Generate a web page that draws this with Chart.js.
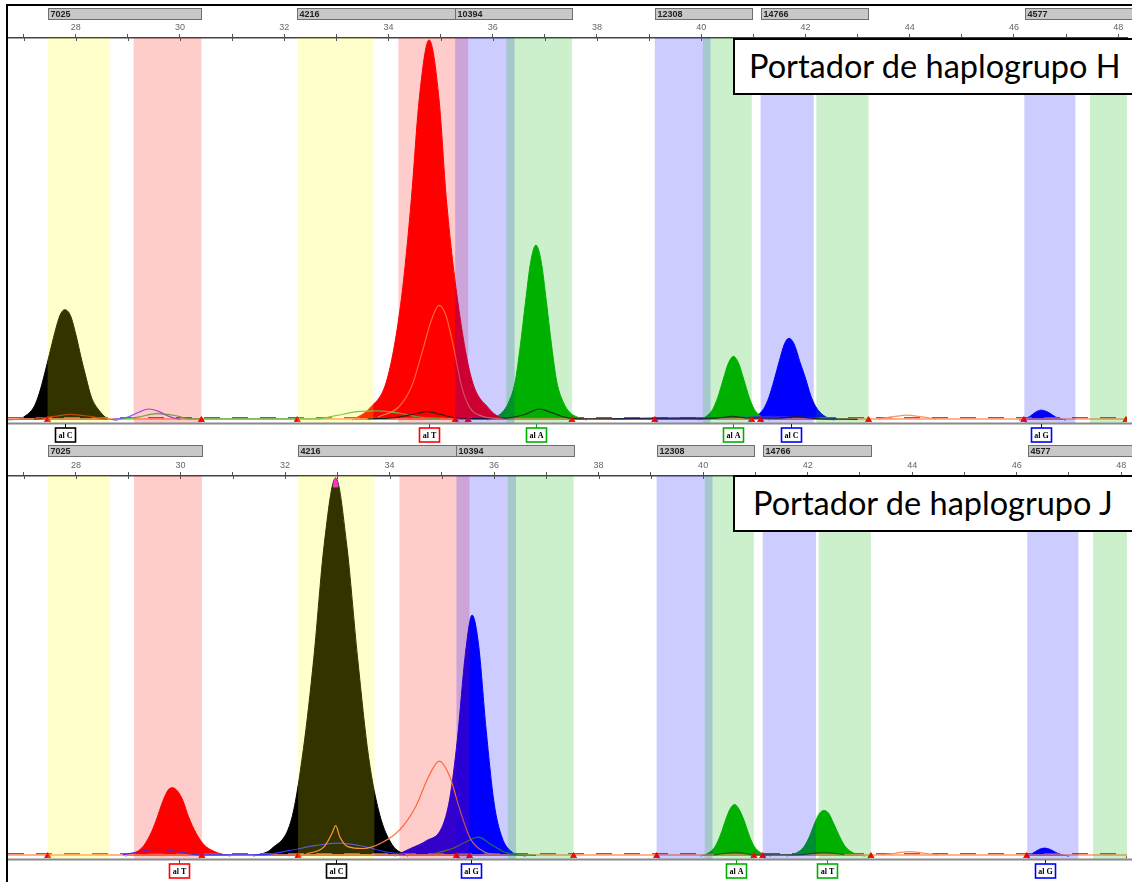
<!DOCTYPE html>
<html>
<head>
<meta charset="utf-8">
<script src="https://cdn.jsdelivr.net/npm/chart.js@4.4.1/dist/chart.umd.min.js"></script>
<style>
  body { margin: 0; background: #fff; width: 1132px; height: 882px; overflow: hidden; position: relative; }
  canvas { position: absolute; left: 0; }
  #frame { position: absolute; left: 6px; top: 4px; width: 1130px; height: 880px;
           border-left: 2px solid #000; border-top: 2px solid #000; pointer-events: none; }
  .tag { position: absolute; left: 733px; width: 420px; background: #fff; border: 2px solid #000;
         font-family: Lato, "Open Sans", sans-serif; font-size: 32.5px; color: #000;
         box-sizing: border-box; padding-left: 14px; white-space: nowrap; }
</style>
</head>
<body>
<canvas id="panelH" width="1132" height="444" style="top:0"></canvas>
<canvas id="panelJ" width="1132" height="438" style="top:444px"></canvas>
<div id="frame"></div>
<div class="tag" style="top:38px;height:57px;line-height:51px">Portador de haplogrupo H</div>
<div class="tag" style="top:475px;height:57px;line-height:52px;padding-left:18px">Portador de haplogrupo J</div>
<script>
// size axis (bp) visible in each panel
const rangeH = [26.70, 48.17];
const rangeJ = [26.70, 48.11];

// SNP marker bins shown as grey bars above the trace
const markerNames = ['7025', '4216', '10394', '12308', '14766', '4577'];
const markerStart = [27.46, 32.25, 35.28, 39.11, 41.14, 46.22];
const markerEnd = [30.41, 35.28, 37.52, 40.97, 43.21, 48.40];
const binEdges = [27.46, 30.41, 32.25, 35.28, 35.53, 37.52, 39.11, 40.97, 41.14, 43.21, 46.19, 48.15];

// allele windows (dye colour bins)
const yellowBins = [[27.46, 28.65], [32.25, 33.71]];
const pinkBins = [[29.11, 30.41], [34.19, 35.53]];
const blueBins = [[35.28, 36.42], [39.11, 40.18], [41.14, 42.16], [46.20, 47.18]];
const greenBins = [[36.26, 37.52], [40.03, 40.97], [42.21, 43.21], [47.46, 48.40]];

// haplogroup H trace: filled peaks [size, rfu %]
const hBlackC = [[26.7, 0.1], [26.9, 0.2], [27.0, 0.8], [27.2, 3.5], [27.3, 7], [27.4, 12], [27.5, 17.5], [27.6, 23], [27.7, 27.5], [27.79, 28.9], [27.9, 27.3], [28.0, 22.5], [28.1, 16.5], [28.2, 11], [28.3, 6], [28.45, 2.5], [28.6, 0.5], [28.8, 0]];
const hRedT = [[33.3, 0], [33.63, 3], [33.98, 11], [34.25, 32], [34.44, 58], [34.59, 84], [34.78, 99.5], [34.97, 84], [35.11, 58], [35.32, 32], [35.59, 11], [35.93, 3], [36.2, 0]];
const hGreenA1 = [[35.9, 0], [36.05, 0.8], [36.18, 2], [36.3, 4.5], [36.43, 10], [36.53, 19.5], [36.63, 31], [36.73, 41.5], [36.83, 45.8], [36.93, 41.5], [37.03, 31], [37.13, 19.5], [37.23, 10], [37.36, 4.5], [37.48, 2], [37.62, 0.8], [37.8, 0]];
const hGreenA2 = [[39.95, 0], [40.1, 1], [40.22, 2.8], [40.32, 6], [40.42, 10.5], [40.52, 14.8], [40.62, 16.7], [40.72, 14.8], [40.82, 10.5], [40.92, 6], [41.02, 2.8], [41.15, 1], [41.3, 0]];
const hBlueC = [[40.9, 0], [41.05, 1], [41.2, 3], [41.3, 6], [41.4, 10.5], [41.5, 15.5], [41.6, 20], [41.68, 21.4], [41.78, 20], [41.9, 15], [42.0, 11], [42.1, 6.5], [42.2, 3.5], [42.35, 1.2], [42.55, 0]];
const hBlueG = [[46.1, 0], [46.3, 0.9], [46.42, 2.1], [46.52, 2.6], [46.65, 2.1], [46.8, 0.8], [47.0, 0]];
// haplogroup H: thin cross-talk traces
const hOrange = [[33.8, 0.8], [34.2, 3.5], [34.45, 9], [34.65, 18], [34.82, 26], [34.97, 30], [35.1, 27.5], [35.25, 19], [35.4, 9], [35.55, 3.5], [35.8, 1], [36.2, 0.3]];
const hOrangeSmall = [[43.4, 0.3], [43.7, 0.9], [43.95, 1.3], [44.2, 0.9], [44.5, 0.3]];
const hBlackThin = [[33.6, 0.3], [34.2, 0.8], [34.5, 1.6], [34.75, 2.2], [35.0, 1.5], [35.3, 0.6], [35.8, 0.4], [36.3, 0.6], [36.6, 1.4], [36.9, 2.9], [37.1, 2.1], [37.4, 0.7], [37.8, 0.3], [39.8, 0.3], [40.3, 0.5], [40.6, 1.0], [40.9, 0.5], [41.5, 0.5], [41.8, 0.9], [42.2, 0.4], [43.0, 0.2]];
const hViolet = [[28.7, 0.2], [29.0, 0.8], [29.2, 2], [29.4, 2.9], [29.6, 2.2], [29.8, 0.9], [30.0, 0.2]];
const hGreenThin = [[28.8, 0.2], [29.2, 0.8], [29.55, 1.7], [29.9, 1.2], [30.2, 0.3], [32.6, 0.3], [33.0, 1.2], [33.4, 2.2], [33.8, 2.4], [34.2, 1.8], [34.6, 0.8], [35.0, 0.3]];
const hDarkRed = [[27.2, 0.2], [27.6, 1.0], [27.9, 1.5], [28.3, 0.9], [28.6, 0.2]];
const hBlueThin = [[38.3, 0.3], [39.0, 0.5], [40.2, 0.6], [41.0, 0.8], [41.4, 1.0], [42.0, 0.7], [42.6, 0.4]];
// haplogroup H allele calls
const hCallPos = [27.79, 34.78, 36.83, 40.62, 41.73, 46.52];
const hCallText = ['al C', 'al T', 'al A', 'al A', 'al C', 'al G'];
const hCallColor = ['#000000', '#ff0000', '#00b000', '#00b000', '#0000ff', '#0000ff'];

// haplogroup J trace: filled peaks
const jRedT = [[28.95, 0], [29.15, 1], [29.3, 2.8], [29.45, 6.5], [29.55, 10], [29.65, 14], [29.77, 17.5], [29.85, 18], [29.95, 17], [30.05, 14.5], [30.15, 10.5], [30.3, 6], [30.45, 3], [30.65, 1.2], [30.95, 0]];
const jBlackC = [[31.4, 0], [31.75, 2], [32.13, 10], [32.35, 28], [32.55, 52], [32.75, 82], [32.97, 99.5], [33.18, 82], [33.39, 52], [33.6, 26], [33.81, 11], [34.05, 3], [34.35, 0]];
const jBlackTip = [[32.92, 97.4], [32.97, 99.5], [33.02, 97.4]];
const jBlueG = [[34.1, 0], [34.4, 2], [34.7, 4], [35.0, 7.5], [35.15, 15], [35.3, 31], [35.45, 53], [35.58, 63.4], [35.7, 56], [35.85, 33], [36.0, 14], [36.15, 5], [36.35, 1], [36.6, 0]];
const jGreenA = [[39.95, 0], [40.1, 0.8], [40.22, 2.3], [40.33, 5.5], [40.43, 9.5], [40.52, 12.5], [40.6, 13.6], [40.68, 12.5], [40.78, 9.5], [40.88, 5.5], [40.98, 2.5], [41.1, 0.9], [41.3, 0]];
const jGreenT = [[41.6, 0], [41.78, 0.8], [41.92, 2.3], [42.03, 5], [42.13, 8.5], [42.23, 11.3], [42.31, 12], [42.4, 11.3], [42.5, 8.5], [42.6, 5.5], [42.72, 2.5], [42.88, 0.8], [43.1, 0]];
const jBlueSmall = [[46.15, 0], [46.3, 0.7], [46.42, 1.7], [46.53, 2.1], [46.65, 1.7], [46.8, 0.6], [47.0, 0]];
// haplogroup J: thin cross-talk traces
const jOrange = [[32.4, 0.5], [32.75, 2.5], [32.9, 6], [32.97, 8], [33.05, 5], [33.2, 2.5], [33.5, 2], [33.85, 3.5], [34.2, 7], [34.5, 13], [34.75, 21], [34.95, 25], [35.15, 21], [35.35, 12], [35.55, 4.5], [35.8, 1.2], [36.1, 0.3]];
const jOrangeSmall = [[43.4, 0.3], [43.7, 0.8], [43.95, 1.2], [44.2, 0.8], [44.5, 0.3]];
const jBlueThin = [[28.9, 0.3], [29.3, 1.4], [29.6, 1.8], [30.0, 1.0], [30.4, 0.3], [31.6, 0.4], [32.1, 1.5], [32.6, 2.8], [33.0, 3.4], [33.5, 2.6], [33.9, 1.2], [34.3, 0.4]];
const jGreenThin = [[34.8, 0.5], [35.2, 2], [35.5, 4], [35.7, 5], [35.95, 3], [36.3, 0.6], [36.8, 0.2]];
const jDarkGreen = [[40.2, 0.3], [40.6, 1.0], [41.0, 0.3], [41.9, 0.4], [42.3, 1.0], [42.7, 0.4]];
// haplogroup J allele calls
const jCallPos = [29.98, 32.97, 35.56, 40.62, 42.37, 46.55];
const jCallText = ['al T', 'al C', 'al G', 'al A', 'al T', 'al G'];
const jCallColor = ['#ff0000', '#000000', '#0000ff', '#00b000', '#00b000', '#0000ff'];

const toXY = pts => pts.map(p => ({ x: p[0], y: p[1] }));

function peak(pts, color, extra) {
  return Object.assign({
    data: toXY(pts),
    borderColor: color,
    backgroundColor: color,
    borderWidth: 1,
    fill: 'origin',
    pointRadius: 0,
    cubicInterpolationMode: 'monotone',
    order: 3
  }, extra || {});
}

function trace(pts, color, width) {
  return {
    data: toXY(pts),
    borderColor: color,
    borderWidth: width || 1.2,
    fill: false,
    pointRadius: 0,
    cubicInterpolationMode: 'monotone',
    order: 2
  };
}

function baseline(range) {
  return [
    trace([[range[0], 0.3], [range[1] + 0.5, 0.3]], '#ff9a6a', 1.5),
    Object.assign(trace([[range[0], 0.6], [range[1] + 0.5, 0.6]], '#ff2a2a', 1.5), { borderDash: [16, 12] }),
    {
      data: binEdges.map(x => ({ x: x, y: 0 })),
      showLine: false,
      pointStyle: 'triangle',
      pointRadius: 3.5,
      pointBackgroundColor: '#ff0000',
      pointBorderColor: '#ff0000',
      order: 0
    }
  ];
}

// translucent dye windows laid over the trace
const binsPlugin = {
  id: 'bins',
  afterDatasetsDraw(chart) {
    const { ctx, chartArea: a, scales: { x } } = chart;
    const layers = [
      [yellowBins, 'rgba(255,255,0,0.2)'],
      [pinkBins, 'rgba(255,0,0,0.2)'],
      [blueBins, 'rgba(0,0,255,0.2)'],
      [greenBins, 'rgba(0,180,0,0.2)']
    ];
    ctx.save();
    ctx.beginPath();
    ctx.rect(a.left, a.top, a.right - a.left, a.bottom - a.top + 2);
    ctx.clip();
    layers.forEach(([bins, color]) => {
      ctx.fillStyle = color;
      bins.forEach(([s, e]) => {
        const x0 = x.getPixelForValue(s), x1 = x.getPixelForValue(e);
        ctx.fillRect(x0, a.top, x1 - x0, a.bottom - a.top + 2);
      });
    });
    ctx.restore();
  }
};

// marker bars, inner tick marks, baseline rule and allele call boxes
const decorPlugin = {
  id: 'decor',
  afterDraw(chart, args, opts) {
    const { ctx, chartArea: a, scales: { x } } = chart;
    ctx.save();

    ctx.strokeStyle = '#555';
    ctx.lineWidth = 1;
    x.ticks.forEach(t => {
      const px = Math.round(x.getPixelForValue(t.value)) + 0.5;
      ctx.beginPath();
      ctx.moveTo(px, a.top);
      ctx.lineTo(px, a.top + 3);
      ctx.stroke();
    });

    ctx.strokeStyle = '#8a8a8a';
    ctx.lineWidth = 2;
    ctx.beginPath();
    ctx.moveTo(a.left, a.bottom + 1.5);
    ctx.lineTo(chart.width, a.bottom + 1.5);
    ctx.stroke();

    ctx.font = 'bold 9px "Liberation Sans", Arial, sans-serif';
    ctx.textBaseline = 'middle';
    markerNames.forEach((name, i) => {
      const x0 = Math.round(x.getPixelForValue(markerStart[i])) + 0.5;
      const x1 = Math.round(x.getPixelForValue(markerEnd[i])) + 0.5;
      ctx.fillStyle = '#c8c8c8';
      ctx.fillRect(x0, opts.barY, x1 - x0, 11);
      ctx.strokeStyle = '#6e6e6e';
      ctx.lineWidth = 1;
      ctx.strokeRect(x0, opts.barY + 0.5, x1 - x0, 11);
      ctx.fillStyle = '#222';
      ctx.fillText(name, x0 + 2, opts.barY + 6.5);
    });

    ctx.font = 'bold 8px "Liberation Serif", serif';
    ctx.textAlign = 'center';
    opts.callPos.forEach((pos, i) => {
      const cx = Math.round(x.getPixelForValue(pos)) + 0.5;
      const top = a.bottom + 6;
      ctx.strokeStyle = opts.callColor[i];
      ctx.lineWidth = 1;
      ctx.beginPath();
      ctx.moveTo(cx, a.bottom + 2);
      ctx.lineTo(cx, top);
      ctx.stroke();
      ctx.fillStyle = '#fff';
      ctx.fillRect(cx - 10, top, 20, 14);
      ctx.lineWidth = 1.6;
      ctx.strokeRect(cx - 10, top, 20, 14);
      ctx.fillStyle = '#000';
      ctx.fillText(opts.callText[i], cx, top + 7.5);
    });
    ctx.restore();
  }
};

function makePanel(id, p) {
  new Chart(document.getElementById(id), {
    type: 'line',
    data: { datasets: p.datasets },
    options: {
      responsive: false,
      animation: false,
      devicePixelRatio: 1,
      layout: { padding: { left: 8, right: 0, top: p.padTop, bottom: p.padBottom } },
      plugins: {
        legend: { display: false },
        tooltip: { enabled: false },
        decor: { barY: p.barY, callPos: p.callPos, callText: p.callText, callColor: p.callColor }
      },
      scales: {
        x: {
          type: 'linear',
          position: 'top',
          min: p.range[0],
          max: p.range[1],
          afterFit: s => { s.height = p.axisH; },
          ticks: {
            stepSize: 1,
            autoSkip: false,
            includeBounds: false,
            maxRotation: 0,
            padding: 1,
            color: '#666',
            font: { family: '"Liberation Sans", Arial, sans-serif', size: 9 },
            callback: v => (v % 2 === 0 ? String(v) : '')
          },
          grid: { drawOnChartArea: false, drawTicks: true, tickLength: 4, color: '#555' },
          border: { display: true, color: '#444', width: 1.5 }
        },
        y: { display: false, min: -0.5, max: 100 }
      }
    },
    plugins: [binsPlugin, decorPlugin]
  });
}

makePanel('panelH', {
  range: rangeH, padTop: 5, axisH: 33, padBottom: 22, barY: 8,
  callPos: hCallPos, callText: hCallText, callColor: hCallColor,
  datasets: [
    trace(hOrange, '#ff8040'),
    trace(hOrangeSmall, '#ff9060'),
    trace(hBlackThin, '#1a1a1a'),
    trace(hViolet, '#7a5cff'),
    trace(hGreenThin, '#50c050'),
    trace(hDarkRed, '#b02000'),
    trace(hBlueThin, '#3030ff'),
    peak(hBlackC, '#000000'),
    peak(hRedT, '#ff0000'),
    peak(hGreenA1, '#00b000'),
    peak(hGreenA2, '#00b000'),
    peak(hBlueC, '#0000ff'),
    peak(hBlueG, '#0000ff')
  ].concat(baseline(rangeH))
});

makePanel('panelJ', {
  range: rangeJ, padTop: 0, axisH: 32, padBottom: 24, barY: 1,
  callPos: jCallPos, callText: jCallText, callColor: jCallColor,
  datasets: [
    trace(jOrange, '#ff8040'),
    trace(jOrangeSmall, '#ff9060'),
    trace(jBlueThin, '#3030ff'),
    trace(jGreenThin, '#2e8b2e'),
    trace(jDarkGreen, '#1a5a1a'),
    peak(jBlackTip, '#ff00ff', { fill: { value: 97 }, order: 1 }),
    peak(jRedT, '#ff0000'),
    peak(jBlackC, '#000000'),
    peak(jBlueG, '#0000ff'),
    peak(jGreenA, '#00b000'),
    peak(jGreenT, '#00b000'),
    peak(jBlueSmall, '#0000ff')
  ].concat(baseline(rangeJ))
});
</script>
</body>
</html>
